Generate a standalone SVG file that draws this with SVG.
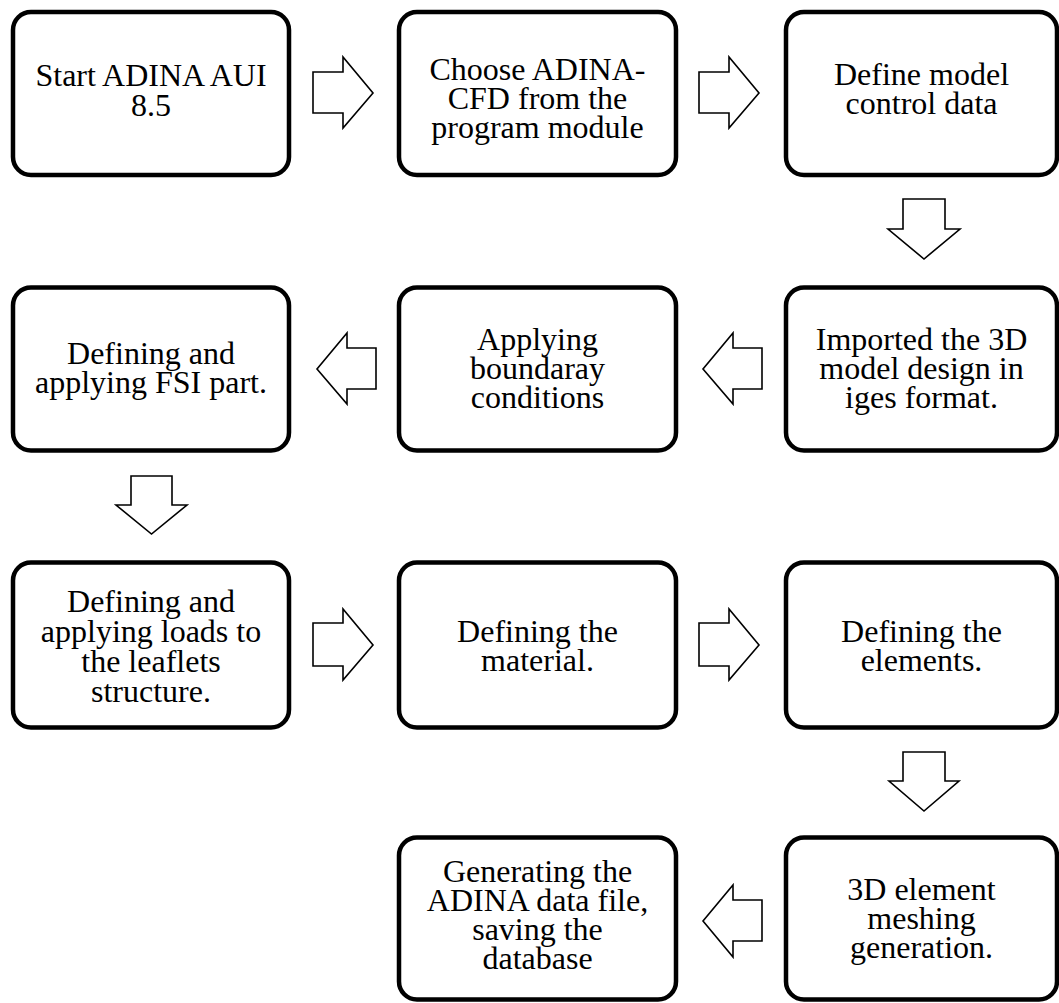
<svg xmlns="http://www.w3.org/2000/svg" width="1059" height="1003" viewBox="0 0 1059 1003">
<style>
.box{fill:#fff;stroke:#000;stroke-width:4.5}
.arr{fill:#fff;stroke:#000;stroke-width:1.6;stroke-linejoin:miter}
text{font-family:"Liberation Serif","Times New Roman",serif;font-size:32px;fill:#000;text-anchor:middle}
</style>
<rect width="1059" height="1003" fill="#fff"/>
<g id="connectors">
<polygon class="arr" points="313,72 343,72 343,57 373,93 343,128 343,113 313,113"/>
<polygon class="arr" points="699,72 729,72 729,57 759,93 729,128 729,113 699,113"/>
<polygon class="arr" points="903,199 945,199 945,229 960,229 924,259 888,229 903,229"/>
<polygon class="arr" points="762,348 733,348 733,333 703,369 733,404 733,389 762,389"/>
<polygon class="arr" points="376,348 347,348 347,333 317,369 347,404 347,389 376,389"/>
<polygon class="arr" points="131,476 172,476 172,505 187,505 151.5,534 116,505 131,505"/>
<polygon class="arr" points="313,623 343,623 343,609 373,645 343,680 343,666 313,666"/>
<polygon class="arr" points="699,623 729,623 729,609 759,645 729,680 729,666 699,666"/>
<polygon class="arr" points="903,752 945,752 945,781 959,781 924,811 889,781 903,781"/>
<polygon class="arr" points="762,900 733,900 733,885 703,921 733,957 733,941 762,941"/>
</g>
<g id="n1"><rect class="box" x="13" y="12" width="276" height="163" rx="18"/>
<text x="151" y="86"><tspan x="151">Start ADINA AUI</tspan><tspan x="151" y="116">8.5</tspan></text></g>
<g id="n2"><rect class="box" x="399" y="12" width="277" height="163" rx="18"/>
<text x="537.5" y="80"><tspan x="537.5">Choose ADINA-</tspan><tspan x="537.5" y="109">CFD from the</tspan><tspan x="537.5" y="138">program module</tspan></text></g>
<g id="n3"><rect class="box" x="786" y="12" width="271" height="163" rx="18"/>
<text x="921.5" y="85"><tspan x="921.5">Define model</tspan><tspan x="921.5" y="114">control data</tspan></text></g>
<g id="n4"><rect class="box" x="786" y="287.5" width="271" height="163" rx="18"/>
<text x="921.5" y="350"><tspan x="921.5">Imported the 3D</tspan><tspan x="921.5" y="379">model design in</tspan><tspan x="921.5" y="408">iges format.</tspan></text></g>
<g id="n5"><rect class="box" x="399" y="287.5" width="277" height="163" rx="18"/>
<text x="537.5" y="350"><tspan x="537.5">Applying</tspan><tspan x="537.5" y="379">boundaray</tspan><tspan x="537.5" y="408">conditions</tspan></text></g>
<g id="n6"><rect class="box" x="13" y="287.5" width="276" height="163" rx="18"/>
<text x="151" y="364"><tspan x="151">Defining and</tspan><tspan x="151" y="393">applying FSI part.</tspan></text></g>
<g id="n7"><rect class="box" x="13" y="562.5" width="276" height="165" rx="18"/>
<text x="151" y="612"><tspan x="151">Defining and</tspan><tspan x="151" y="642">applying loads to</tspan><tspan x="151" y="672">the leaflets</tspan><tspan x="151" y="702">structure.</tspan></text></g>
<g id="n8"><rect class="box" x="399" y="562.5" width="277" height="165" rx="18"/>
<text x="537.5" y="642"><tspan x="537.5">Defining the</tspan><tspan x="537.5" y="671">material.</tspan></text></g>
<g id="n9"><rect class="box" x="786" y="562.5" width="271" height="165" rx="18"/>
<text x="921.5" y="642"><tspan x="921.5">Defining the</tspan><tspan x="921.5" y="671">elements.</tspan></text></g>
<g id="n10"><rect class="box" x="786" y="837.5" width="271" height="162" rx="18"/>
<text x="921.5" y="900"><tspan x="921.5">3D element</tspan><tspan x="921.5" y="929">meshing</tspan><tspan x="921.5" y="958">generation.</tspan></text></g>
<g id="n11"><rect class="box" x="399" y="837.5" width="277" height="162" rx="18"/>
<text x="537.5" y="882"><tspan x="537.5">Generating the</tspan><tspan x="537.5" y="911">ADINA data file,</tspan><tspan x="537.5" y="940">saving the</tspan><tspan x="537.5" y="969">database</tspan></text></g>
</svg>
